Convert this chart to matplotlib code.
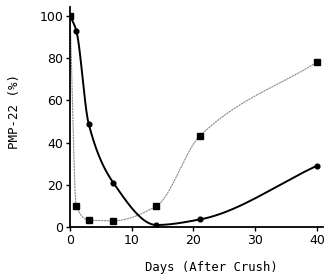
import numpy as np
import matplotlib
matplotlib.use("Agg")
import matplotlib.pyplot as plt
import matplotlib.ticker as ticker

# values
days_circle = [0, 1, 3, 7, 14, 21, 40]
pmp_circle = [100, 93, 49, 21, 1, 3.6, 29]
days_square = [0, 1, 3, 7, 14, 21, 40]
pmp_square = [100, 10, 3.3, 3, 10, 43, 78]


def pchip(x, y, xs):
    # monotone cubic, only used to draw the smooth connecting line
    x = np.asarray(x, float)
    y = np.asarray(y, float)
    h = np.diff(x)
    d = np.diff(y) / h
    m = np.zeros(len(x))
    m[0], m[-1] = d[0], d[-1]
    for k in range(1, len(x) - 1):
        if d[k - 1] * d[k] > 0:
            w1 = 2 * h[k] + h[k - 1]
            w2 = h[k] + 2 * h[k - 1]
            m[k] = (w1 + w2) / (w1 / d[k - 1] + w2 / d[k])
    idx = np.clip(np.searchsorted(x, xs) - 1, 0, len(x) - 2)
    t = (xs - x[idx]) / h[idx]
    h00 = 2 * t**3 - 3 * t**2 + 1
    h10 = t**3 - 2 * t**2 + t
    h01 = -2 * t**3 + 3 * t**2
    h11 = t**3 - t**2
    return h00 * y[idx] + h10 * h[idx] * m[idx] + h01 * y[idx + 1] + h11 * h[idx] * m[idx + 1]


fig = plt.figure(figsize=(3.26, 2.79), dpi=100)
ax = fig.add_axes([0.215, 0.186, 0.776, 0.788])

xs = np.linspace(0, 40, 800)
ax.plot(xs, pchip(days_square, pmp_square, xs), color="#8a8a8a", lw=0.8, ls=(0, (2, 0.6)))
ax.plot(days_square, pmp_square, ls="none", marker="s", ms=3.8, color="black")
ax.plot(xs, pchip(days_circle, pmp_circle, xs), color="black", lw=1.4)
ax.plot(days_circle, pmp_circle, ls="none", marker="o", ms=3.4, color="black")

ax.set_xlim(0, 41)
ax.set_ylim(0, 104)
ax.xaxis.set_major_locator(ticker.MultipleLocator(10))
ax.yaxis.set_major_locator(ticker.MultipleLocator(20))
ax.spines["top"].set_visible(False)
ax.spines["right"].set_visible(False)
ax.spines["left"].set_linewidth(1.3)
ax.spines["bottom"].set_linewidth(1.3)
ax.tick_params(direction="out", length=3, width=1, labelsize=9, pad=2)

ax.set_xlabel("Days (After Crush)", family="DejaVu Sans Mono", fontsize=8.8)
ax.set_ylabel("PMP-22 (%)", family="DejaVu Sans Mono", fontsize=9)
ax.xaxis.set_label_coords(0.56, -0.155)
ax.yaxis.set_label_coords(-0.195, 0.525)

fig.savefig("out.png", dpi=100)
